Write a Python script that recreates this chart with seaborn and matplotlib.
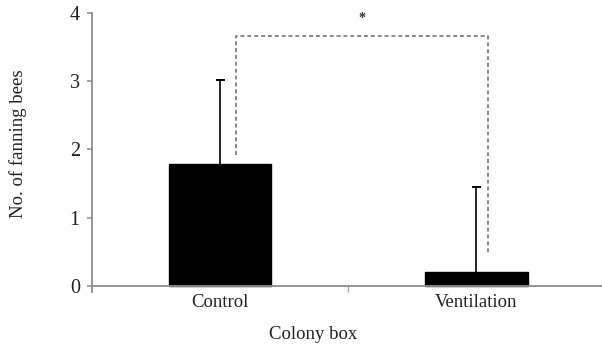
import matplotlib
matplotlib.use("Agg")
import matplotlib.pyplot as plt
import seaborn as sns
import pandas as pd
import numpy as np

# Mean number of fanning bees per colony box, with SD (upper whisker only)
categories = ["Control", "Ventilation"]
means = [1.79, 0.20]
sds = [1.23, 1.25]
y_ticks = [0, 1, 2, 3, 4]

# Significance bracket: height and where each arm stops
bracket_top = 3.66
bracket_left_end = 1.92
bracket_right_end = 0.47
star_label = "*"

sns.set_theme(style="white")
plt.rcParams["font.family"] = ["Liberation Serif", "DejaVu Serif"]

axis_grey = "#8c8c8c"
text_col = "#222222"

fig = plt.figure(figsize=(6.02, 3.46), dpi=100)
ax = fig.add_axes([92 / 602, 1 - 292 / 346, 1 - 92 / 602, (292 - 13) / 346])

df = pd.DataFrame({"box": categories, "bees": means})
sns.barplot(data=df, x="box", y="bees", color="black", width=0.4,
            errorbar=None, saturation=1, ax=ax, edgecolor="black")

# Upper-only SD whiskers with a cap at the top
x = np.arange(len(categories))
tops = np.array(means) + np.array(sds)
ax.vlines(x, means, tops, color="black", lw=1.2)
ax.hlines(tops, x - 0.018, x + 0.018, color="black", lw=1.4)

# Bracket with significance marker
xl, xr = 0.0625, 1.047
ax.plot([xl, xl, xr, xr],
        [bracket_left_end, bracket_top, bracket_top, bracket_right_end],
        color="#808080", lw=1.3, ls=(0, (2.2, 1.6)), solid_capstyle="butt")
ax.text(0.555, 3.92, star_label, ha="center", va="center", fontsize=10,
        color="#333333", fontweight="bold")

ax.set_ylim(-0.09, 4)
ax.set_xlim(-0.5, 1.49)
ax.set_yticks(y_ticks)
ax.set_yticklabels([str(v) for v in y_ticks])
ax.set_xticks(x)
ax.set_xticklabels(categories)
ax.set_xticks([0.5], minor=True)

# Category axis sits on y = 0, value axis runs slightly below it
for s in ["top", "right"]:
    ax.spines[s].set_visible(False)
ax.spines["bottom"].set_position(("data", 0))
for s in ["left", "bottom"]:
    ax.spines[s].set_color(axis_grey)
    ax.spines[s].set_linewidth(1.3)

ax.tick_params(axis="y", which="major", direction="out", length=3.8,
               width=1.1, color=axis_grey, pad=5, labelsize=14.5,
               left=True, labelcolor=text_col)
ax.tick_params(axis="x", which="major", length=0, pad=6, labelsize=13.5,
               labelcolor=text_col)
ax.tick_params(axis="x", which="minor", direction="out", length=4,
               width=1.0, color="#aaaaaa", bottom=True)
ax.xaxis.set_minor_formatter(plt.NullFormatter())

ax.set_xlabel("Colony box", fontsize=13.5, color=text_col, va="center")
ax.xaxis.set_label_coords(0.433, -0.151)
ax.set_ylabel("No. of fanning bees", fontsize=13.5, color=text_col,
              va="center")
ax.yaxis.set_label_coords(-0.145, 0.53)

fig.savefig("out.png", dpi=100)
